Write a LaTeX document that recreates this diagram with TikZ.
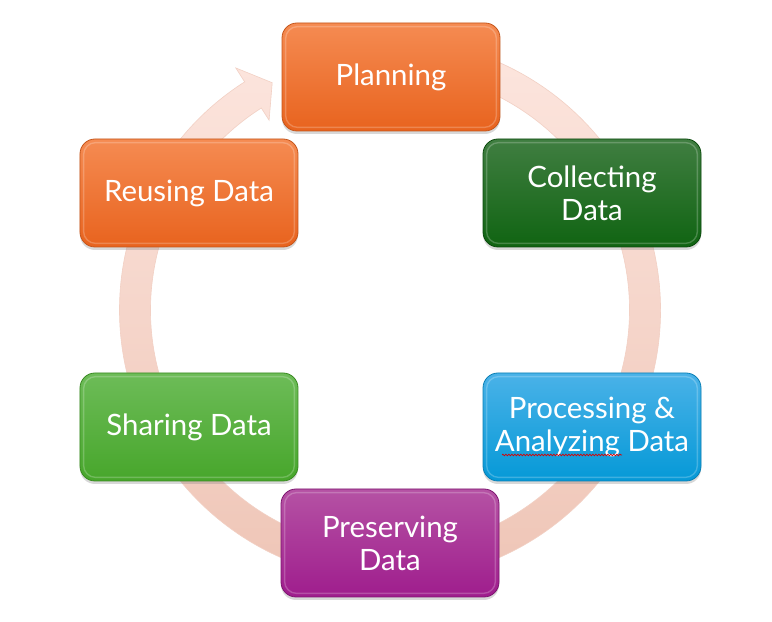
\documentclass[tikz,border=0pt]{standalone}
\usepackage{fontspec}
\setmainfont{Lato}
\usetikzlibrary{calc,shadows,decorations.pathmorphing}
\definecolor{orTop}{HTML}{F58B52}
\definecolor{orBot}{HTML}{E8631E}
\definecolor{orLine}{HTML}{C4561C}
\definecolor{dgTop}{HTML}{407E41}
\definecolor{dgBot}{HTML}{106412}
\definecolor{dgLine}{HTML}{0B4A0D}
\definecolor{blTop}{HTML}{4AB2E8}
\definecolor{blBot}{HTML}{0599D7}
\definecolor{blLine}{HTML}{0A7FB4}
\definecolor{mgTop}{HTML}{B552A4}
\definecolor{mgBot}{HTML}{9F1D8D}
\definecolor{mgLine}{HTML}{7D1670}
\definecolor{lgTop}{HTML}{6DBC58}
\definecolor{lgBot}{HTML}{47A62B}
\definecolor{lgLine}{HTML}{3A8A22}
\definecolor{ringTop}{HTML}{FDE7E0}
\definecolor{ringMid}{HTML}{FCDCD2}
\definecolor{ringBot}{HTML}{EEC4B5}
\definecolor{ringLine}{HTML}{F2D0C4}
\begin{document}
\begin{tikzpicture}[x=1bp,y=1bp,
  stage/.style={rounded corners=15bp, minimum width=218bp, minimum height=108bp,
    text=white, align=center, font=\fontsize{29.4bp}{33bp}\selectfont, line width=0.8bp,
    drop shadow={shadow xshift=0bp, shadow yshift=-3bp, opacity=0.3}},
  orstage/.style={stage, top color=orTop, bottom color=orBot, draw=orLine},
  dgstage/.style={stage, top color=dgTop, bottom color=dgBot, draw=dgLine},
  blstage/.style={stage, top color=blTop, bottom color=blBot, draw=blLine},
  mgstage/.style={stage, top color=mgTop, bottom color=mgBot, draw=mgLine},
  lgstage/.style={stage, top color=lgTop, bottom color=lgBot, draw=lgLine},
  bevel/.style={draw=white, draw opacity=0.22, line width=1.4bp, rounded corners=12bp},
  ring/.style={top color=ringTop, middle color=ringMid, bottom color=ringBot,
    draw=ringLine, line width=0.6bp}
]
\useasboundingbox (0,0) rectangle (772,622);
\fill[white] (0,0) rectangle (772,622);

\coordinate (C) at (390,312);
\shadedraw[ring]
  ($(C)+(100:270.5bp)$) arc[start angle=100, end angle=-237.5, radius=270.5bp]
  -- ($(C)+(-237.5:287bp)$) -- ($(C)+(-242.6:256bp)$) -- ($(C)+(-237.5:225bp)$)
  -- ($(C)+(-237.5:239.5bp)$) arc[start angle=-237.5, end angle=100, radius=239.5bp]
  -- cycle;

\node[orstage] (plan) at (391,545) {Planning};
\node[dgstage] (coll) at (592,429) {Collecting\\Data};
\node[blstage] (proc) at (592,195) {Processing \&\\Analyzing Data};
\node[mgstage] (pres) at (390,79) {Preserving\\Data};
\node[lgstage] (shar) at (189,195) {Sharing Data};
\node[orstage] (reus) at (189,429) {Reusing Data};

\foreach \n in {plan,coll,proc,pres,shar,reus}{
  \draw[bevel] ($(\n.south west)+(4bp,4bp)$) rectangle ($(\n.north east)-(4bp,4bp)$);
}

\draw[red!85!black, line width=0.7bp, decorate,
  decoration={snake, amplitude=0.8bp, segment length=3bp}]
  ($(proc.center)+(-90bp,-28bp)$) -- ++(120bp,0);
\end{tikzpicture}
\end{document}
